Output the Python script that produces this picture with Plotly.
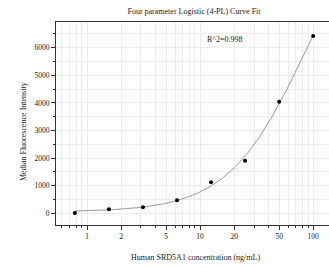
import numpy as np
import plotly.graph_objects as go

# Data
conc = [0.78125, 1.5625, 3.125, 6.25, 12.5, 25, 50, 100]
mfi = [15, 145, 218, 473, 1125, 1906, 4043, 6424]
x_tickvals = [1, 2, 5, 10, 20, 50, 100]
x_ticktext = ["1", "2", "5", "10", "20", "50", "100"]
y_tickvals = [0, 1000, 2000, 3000, 4000, 5000, 6000]
r2_label = "R^2=0.998"

# 4PL least-squares fit (grid over slope b and midpoint c; a, d solved linearly)
xa = np.array(conc, dtype=float)
ya = np.array(mfi, dtype=float)
best = None
for b in np.linspace(0.5, 3.0, 126):
    for lc in np.linspace(0, 5, 251):
        c = 10 ** lc
        g = 1.0 / (1.0 + (xa / c) ** b)
        A = np.column_stack([g, 1 - g])
        coef, *_ = np.linalg.lstsq(A, ya, rcond=None)
        res = np.sum((A @ coef - ya) ** 2)
        if best is None or res < best[0]:
            best = (res, b, c, coef[0], coef[1])
_, b, c, a, d = best
xf = np.logspace(np.log10(conc[0]), np.log10(conc[-1]), 200)
yf = d + (a - d) / (1 + (xf / c) ** b)

font = "Liberation Serif"
W, H = 329, 268
L, R, T, B = 56, 0, 22, 43
minor_x = [m * 10 ** e for e in (-1, 0, 1, 2) for m in range(1, 10)]
minor_x = [v for v in minor_x if 0.5 < v < 140]

fig = go.Figure()
fig.add_trace(go.Scatter(x=xf, y=yf, mode="lines",
                         line=dict(color="#9a9a9a", width=1), hoverinfo="skip"))
fig.add_trace(go.Scatter(x=conc, y=mfi, mode="markers",
                         marker=dict(color="black", size=4, symbol="circle")))

ph = H - T - B
pw = W - L - R
fig.update_layout(
    width=W, height=H,
    margin=dict(l=L, r=R, t=T, b=B, autoexpand=False),
    paper_bgcolor="white", plot_bgcolor="white",
    showlegend=False,
    font=dict(family=font, size=8, color="#222"),
    title=dict(text="Four parameter Logistic (4-PL) Curve Fit",
               x=(L + 138) / W, xanchor="center", y=1 - 11 / H, yanchor="middle",
               font=dict(family=font, size=8, color="#222")),
    annotations=[
        dict(text=r2_label, x=(245 - L) / pw, y=(225 - 33) / ph, xref="paper", yref="paper",
             showarrow=False, font=dict(family=font, size=8, color="#222")),
        dict(text="Human SRD5A1 concentration (ng/mL)", x=(195 - L) / pw,
             y=-(257 - 225) / ph, xref="paper", yref="paper", yanchor="middle",
             showarrow=False, font=dict(family=font, size=8, color="#222")),
        dict(text="Median Fluorescence Intensity", x=-(L - 23) / pw, xanchor="center",
             y=(225 - 132) / ph, xref="paper", yref="paper", textangle=-90,
             showarrow=False, font=dict(family=font, size=8, color="#222")),
    ],
)
fig.update_xaxes(
    type="log", range=[np.log10(0.532), np.log10(138)], automargin=False,
    tickvals=x_tickvals, ticktext=x_ticktext,
    ticks="outside", ticklen=4, tickcolor="#333",
    showline=True, linecolor="#333", linewidth=1.2, mirror=True,
    showgrid=True, gridcolor="#ececec", gridwidth=1,
    minor=dict(tickvals=minor_x, ticks="outside", ticklen=2, tickcolor="#333",
               showgrid=True, gridcolor="#ececec"),
    tickfont=dict(family=font, size=7.5, color="#222"),
    zeroline=False,
)
fig.update_yaxes(
    range=[-424, 6931], automargin=False,
    tickvals=y_tickvals,
    ticks="outside", ticklen=4, tickcolor="#333",
    showline=True, linecolor="#333", linewidth=1.2,
    showgrid=True, gridcolor="#ececec", gridwidth=1,
    minor=dict(dtick=500, ticks="outside", ticklen=2, tickcolor="#333",
               showgrid=True, gridcolor="#ececec"),
    tickfont=dict(family=font, size=7.5, color="#222"),
    zeroline=False,
)
fig.write_html("out.html", config={"displayModeBar": False},
               post_script="document.body.style.margin='0';document.body.style.overflow='hidden';")
